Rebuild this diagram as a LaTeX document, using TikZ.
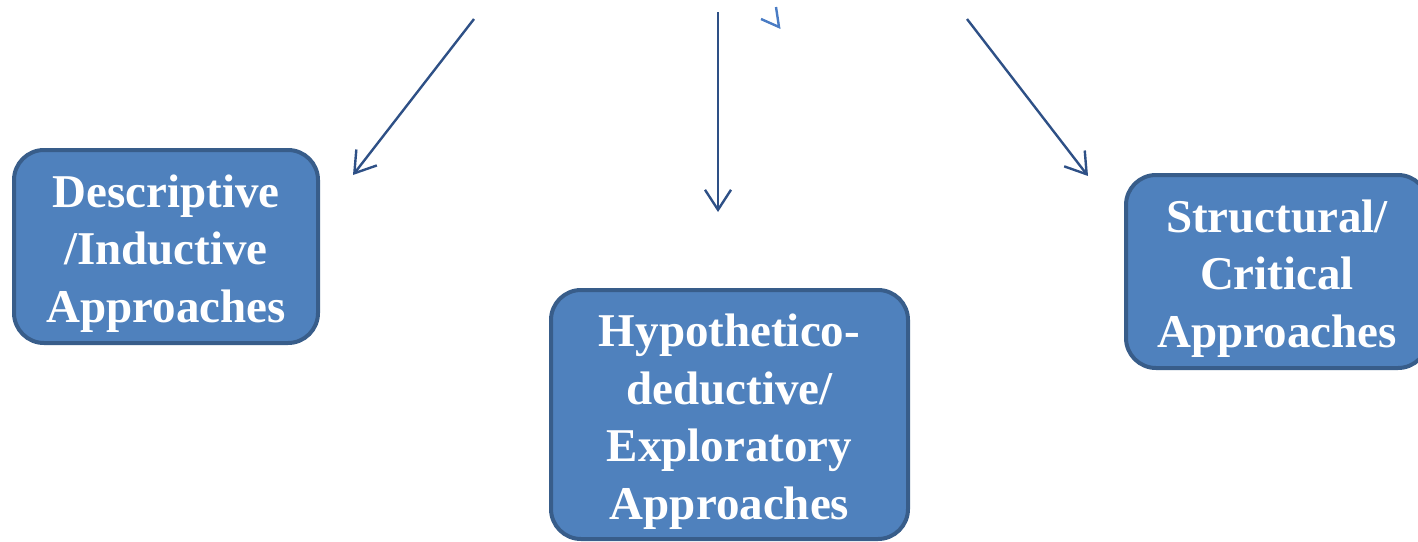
\documentclass[tikz,border=0pt]{standalone}
\usepackage{fontspec}
\setmainfont{Liberation Serif}
\usetikzlibrary{arrows.meta}
\definecolor{boxfill}{HTML}{4F81BD}
\definecolor{boxedge}{HTML}{385D8A}
\definecolor{arrowcol}{HTML}{2E5086}
\definecolor{faint}{HTML}{4A7CC4}
\tikzset{
  approach/.style={draw=boxedge, line width=4pt, fill=boxfill, rounded corners=30pt,
    inner sep=0pt},
  approachtext/.style={text=white, font=\fontsize{47}{57.5}\selectfont\bfseries,
    align=center, inner sep=0pt, yshift=-7pt},
  link/.style={draw=arrowcol, line width=2.4pt,
    -{Straight Barb[length=20pt,width=26pt,line width=2.4pt]}}
}
\begin{document}
\begin{tikzpicture}[x=1pt,y=-1pt]
\useasboundingbox (0,0) rectangle (1418,541);
\node[approach, minimum width=304pt, minimum height=193pt,
  label={[approachtext]center:{Descriptive\\/Inductive\\Approaches}}] (desc) at (166,246.5) {};
\node[approach, minimum width=357pt, minimum height=249pt,
  label={[approachtext]center:{Hypothetico-\\deductive/\\Exploratory\\Approaches}}] (hypo) at (729.5,414.5) {};
\node[approach, minimum width=302pt, minimum height=193pt,
  label={[approachtext]center:{Structural/\\Critical\\Approaches}}] (struct) at (1277,271.5) {};
\coordinate (s1) at (474,19);
\coordinate (e1) at (353,175);
\coordinate (s2) at (718,12);
\coordinate (e2) at (718,212);
\coordinate (s3) at (967,19);
\coordinate (e3) at (1088,176);
\draw[link] (s1) -- (e1);
\draw[link] (s2) -- (e2);
\draw[link] (s3) -- (e3);
\coordinate (m1) at (776,7);
\coordinate (m2) at (779,27);
\coordinate (m3) at (761,19);
\draw[faint, line width=2.4pt] (m1) -- (m2) -- (m3);
\end{tikzpicture}
\end{document}
